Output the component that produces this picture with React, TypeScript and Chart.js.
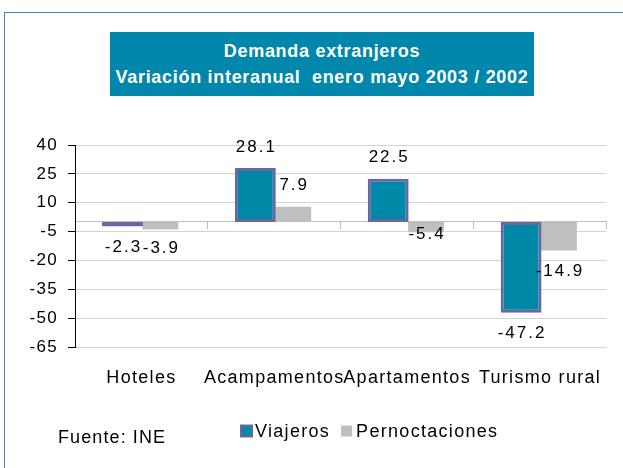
import React, { useEffect, useRef } from "react";
import { Chart, registerables } from "chart.js";

Chart.register(...registerables);

// ---- data ----
const categories = ["Hoteles", "Acampamentos", "Apartamentos", "Turismo rural"];
const viajeros = [-2.3, 28.1, 22.5, -47.2];
const pernoctaciones = [-3.9, 7.9, -5.4, -14.9];
const seriesNames = ["Viajeros", "Pernoctaciones"];
const yTickValues = [-65, -50, -35, -20, -5, 10, 25, 40];
const titleLines = ["Demanda extranjeros", "Variación interanual  enero mayo 2003 / 2002"];
const sourceNote = "Fuente: INE";

// ---- styles ----
const FONT = '"Liberation Sans", Arial, Helvetica, sans-serif';
const TEAL = "#0088A8";
const PURPLE = "#6A679F";
const GREY = "#BFBFBF";
const GRID = "#D3D3D3";
const FRAME = "#4F81BD";
// small vertical nudges for individual value labels (dataset-index)
const labelNudge: Record<string, number> = { "1-2": -19, "1-0": -2 };

const spacingPlugin = {
  id: "letterSpacing",
  beforeUpdate(chart: any) {
    chart.ctx.letterSpacing = "1.3px";
  },
  beforeDraw(chart: any) {
    chart.ctx.letterSpacing = "1.3px";
  },
};

const valueLabelPlugin = {
  id: "valueLabels",
  afterDatasetsDraw(chart: any) {
    const ctx = chart.ctx;
    ctx.save();
    ctx.letterSpacing = "2px";
    ctx.font = `17px ${FONT}`;
    ctx.fillStyle = "#000";
    ctx.textAlign = "center";
    ctx.textBaseline = "middle";
    chart.data.datasets.forEach((ds: any, di: number) => {
      const meta = chart.getDatasetMeta(di);
      meta.data.forEach((bar: any, i: number) => {
        const v = ds.data[i] as number;
        const dy = labelNudge[`${di}-${i}`] ?? 0;
        const y = bar.y + (v >= 0 ? -21 : 21) + dy;
        ctx.fillText(String(v), bar.x + 1, y);
      });
    });
    ctx.restore();
  },
};

const legendPlugin = {
  id: "customLegend",
  afterDraw(chart: any) {
    const ctx = chart.ctx;
    ctx.save();
    ctx.letterSpacing = "1.3px";
    ctx.font = `18px ${FONT}`;
    ctx.fillStyle = "#000";
    ctx.textAlign = "left";
    ctx.textBaseline = "middle";
    const cy = 431;
    let x = 240;
    chart.data.datasets.forEach((ds: any) => {
      if (ds.borderWidth) {
        ctx.fillStyle = ds.borderColor;
        ctx.fillRect(x, cy - 6.5, 13, 13);
        ctx.fillStyle = ds.backgroundColor;
        ctx.fillRect(x + 2, cy - 4.5, 9, 9);
        x += 15;
      } else {
        ctx.fillStyle = ds.backgroundColor;
        ctx.fillRect(x, cy - 5.5, 11, 11);
        x += 15;
      }
      ctx.fillStyle = "#000";
      ctx.fillText(ds.label, x, cy + 1);
      x += ctx.measureText(ds.label).width + 11;
    });
    // source note
    ctx.letterSpacing = "1.1px";
    ctx.fillText(sourceNote, 58, 438);
    ctx.restore();
  },
};

export default function App() {
  const canvasRef = useRef<HTMLCanvasElement | null>(null);

  useEffect(() => {
    if (!canvasRef.current) return;
    const chart = new Chart(canvasRef.current, {
      type: "bar",
      data: {
        labels: categories,
        datasets: [
          {
            label: seriesNames[0],
            data: viajeros,
            backgroundColor: TEAL,
            borderColor: PURPLE,
            borderWidth: 3,
            borderSkipped: false,
            categoryPercentage: 0.57,
            barPercentage: 1.08,
          },
          {
            label: seriesNames[1],
            data: pernoctaciones,
            backgroundColor: GREY,
            borderWidth: 0,
            categoryPercentage: 0.57,
            barPercentage: 0.947,
          },
        ],
      },
      options: {
        responsive: false,
        maintainAspectRatio: false,
        devicePixelRatio: 1,
        animation: false,
        layout: { padding: { top: 145, right: 15, bottom: 81, left: 0 } },
        plugins: {
          legend: { display: false },
          tooltip: { enabled: false },
          title: { display: false },
        },
        scales: {
          x: {
            type: "category",
            position: "bottom",
            offset: true,
            grid: { display: false, drawTicks: false },
            border: { display: false },
            ticks: {
              color: "#000",
              font: { size: 18, family: FONT },
              padding: 20,
              maxRotation: 0,
              minRotation: 0,
              autoSkip: false,
            },
            afterFit: (s: any) => {
              s.height = 40;
            },
          },
          xZero: {
            type: "category",
            position: { y: 0 },
            offset: true,
            ticks: { display: false },
            grid: {
              display: true,
              drawOnChartArea: false,
              drawTicks: true,
              tickLength: 7,
              offset: true,
              color: GREY,
              tickColor: GREY,
            },
            border: { display: true, color: GREY, width: 1 },
          },
          y: {
            type: "linear",
            min: yTickValues[0],
            max: yTickValues[yTickValues.length - 1],
            afterBuildTicks: (s: any) => {
              s.ticks = yTickValues.map((value) => ({ value }));
            },
            afterFit: (s: any) => {
              s.width = 75;
            },
            ticks: {
              color: "#000",
              font: { size: 17, family: FONT },
              padding: 10,
            },
            grid: {
              color: GRID,
              tickColor: "#000",
              tickLength: 7,
              drawTicks: true,
            },
            border: { display: true, color: "#000", width: 1 },
          },
        },
      } as any,
      plugins: [spacingPlugin, valueLabelPlugin, legendPlugin],
    });
    return () => chart.destroy();
  }, []);

  return (
    <div
      style={{
        position: "fixed",
        left: 0,
        top: 0,
        width: 623,
        height: 468,
        overflow: "hidden",
        background: "#fff",
      }}
    >
      <div
        style={{
          position: "absolute",
          left: 4,
          top: 12,
          width: 700,
          height: 600,
          borderLeft: `1px solid ${FRAME}`,
          borderTop: `1px solid ${FRAME}`,
        }}
      />
      <canvas
        ref={canvasRef}
        width={623}
        height={468}
        style={{ position: "absolute", left: 0, top: 0, width: 623, height: 468 }}
      />
      <div
        style={{
          position: "absolute",
          left: 110,
          top: 32,
          width: 424,
          height: 64,
          background: "#0087AB",
          color: "#fff",
          fontFamily: FONT,
          fontWeight: "bold",
          fontSize: 18,
          letterSpacing: "0.7px",
          lineHeight: "26px",
          display: "flex",
          flexDirection: "column",
          justifyContent: "center",
          alignItems: "center",
          whiteSpace: "pre",
        }}
      >
        {titleLines.map((t) => (
          <div key={t}>{t}</div>
        ))}
      </div>
    </div>
  );
}
